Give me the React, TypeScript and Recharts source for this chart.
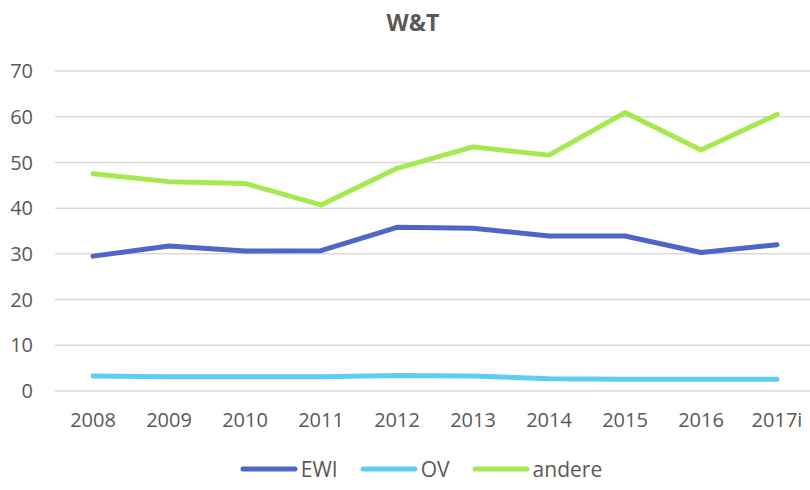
import React from 'react';
import { LineChart, Line, XAxis, YAxis, CartesianGrid, Legend } from 'recharts';

const years = ['2008', '2009', '2010', '2011', '2012', '2013', '2014', '2015', '2016', '2017i'];
const ewi = [29.5, 31.7, 30.6, 30.7, 35.8, 35.6, 33.9, 33.9, 30.3, 32.0];
const ov = [3.3, 3.1, 3.1, 3.1, 3.4, 3.3, 2.7, 2.55, 2.55, 2.55];
const andere = [47.5, 45.8, 45.4, 40.7, 48.7, 53.4, 51.6, 60.9, 52.7, 60.5];
const yTicks = [0, 10, 20, 30, 40, 50, 60, 70];
const seriesNames = ['EWI', 'OV', 'andere'];
const colors = ['#4F66C9', '#5FCCF4', '#A6E84F'];

const data = years.map((y, i) => ({ year: y, EWI: ewi[i], OV: ov[i], andere: andere[i] }));

const FONT = '"Open Sans", sans-serif';
const TEXT = '#595959';

const LegendContent = () => (
  <div style={{ display: 'flex', justifyContent: 'center', alignItems: 'center', fontFamily: FONT, fontSize: 21, color: TEXT }}>
    {seriesNames.map((n, i) => (
      <div key={n} style={{ display: 'flex', alignItems: 'center', marginRight: i < 2 ? 22 : 0 }}>
        <svg width={58} height={10} style={{ marginRight: 3 }}>
          <line x1={3} y1={5} x2={55} y2={5} stroke={colors[i]} strokeWidth={5} strokeLinecap="round" />
        </svg>
        <span>{n}</span>
      </div>
    ))}
  </div>
);

export default function App() {
  return (
    <div style={{ position: 'absolute', left: 0, top: 0, width: 810, height: 490, overflow: 'hidden', background: '#fff' }}>
      <div style={{ position: 'absolute', top: 6, left: 0, width: 826, textAlign: 'center', fontFamily: FONT, fontWeight: 700, fontSize: 23, color: TEXT }}>
        W&amp;T
      </div>
      <LineChart width={820} height={490} data={data} margin={{ top: 71, right: 5, bottom: 0, left: 0 }}>
        <CartesianGrid vertical={false} stroke="#D9D9D9" strokeWidth={1.5} />
        <XAxis dataKey="year" axisLine={false} tickLine={false} tickSize={0} tickMargin={22} height={69}
          padding={{ left: 38, right: 38 }}
          tick={{ fill: TEXT, fontSize: 20, fontFamily: FONT }} interval={0} />
        <YAxis domain={[0, 70]} ticks={yTicks} axisLine={false} tickLine={false} tickSize={0} tickMargin={22} width={55}
          tick={{ fill: TEXT, fontSize: 20, fontFamily: FONT }} />
        <Legend content={<LegendContent />} wrapperStyle={{ position: 'absolute', top: 455, left: 0, width: 842, height: 30 }} />
        {seriesNames.map((n, i) => (
          <Line key={n} dataKey={n} stroke={colors[i]} strokeWidth={5} dot={false} isAnimationActive={false} strokeLinecap="round" strokeLinejoin="round" />
        ))}
      </LineChart>
    </div>
  );
}
